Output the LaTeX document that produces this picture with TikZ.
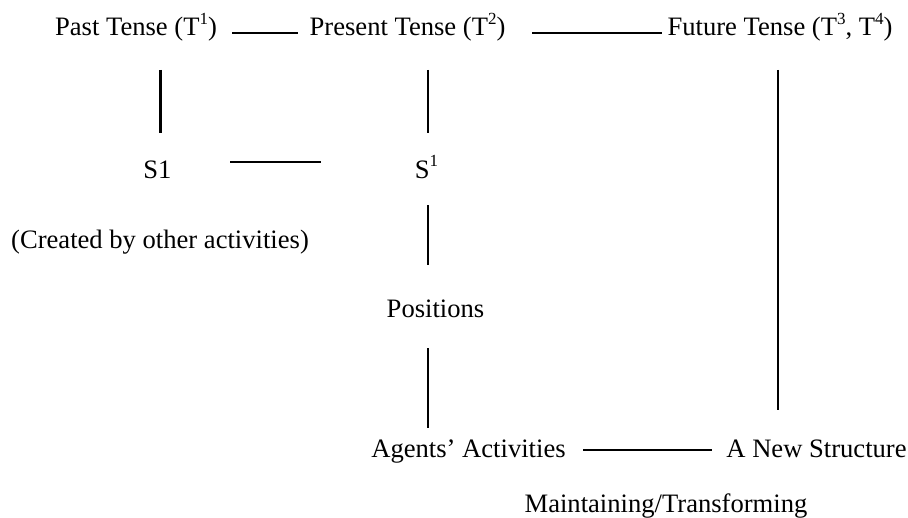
\documentclass[tikz,border=0pt]{standalone}
\usepackage{fontspec}
\setmainfont{Liberation Serif}
% small raised index, as used in the tense labels
\newcommand{\idx}[1]{\raisebox{0.42em}{\fontsize{8.5}{9}\selectfont #1}}
\begin{document}
\begin{tikzpicture}[x=0.5pt,y=-0.5pt,
  lbl/.style={anchor=base,inner sep=0pt,font=\fontsize{13.3}{16}\selectfont},
  link/.style={line width=1.25pt,black}]
\useasboundingbox (0,0) rectangle (908,518);
% labels
\node[lbl] (past)    at (136,36)   {Past Tense (T\idx{1})};
\node[lbl] (present) at (407.5,36) {Present Tense (T\idx{2})};
\node[lbl] (future)  at (780,36)   {Future Tense (T\idx{3}, T\idx{4})};
\node[lbl] (sone)    at (157.5,178) {S1};
\node[lbl] (ssup)    at (426.5,178) {S\idx{1}};
\node[lbl] (created) at (160,248)  {(Created by other activities)};
\node[lbl] (posn)    at (435.5,317) {Positions};
\node[lbl] (agents)  at (468.5,457) {Agents’ Activities};
\node[lbl] (newst)   at (816.5,457) {A New Structure};
\node[lbl] (maint)   at (666,512)  {Maintaining/Transforming};
% connector ends
\coordinate (pastR) at (232,33);   \coordinate (presL) at (298,33);
\coordinate (presR) at (532,33);   \coordinate (futL)  at (662,33);
\coordinate (pastD) at (160.7,70); \coordinate (soneU) at (160.7,133);
\coordinate (presD) at (428,70);   \coordinate (ssupU) at (428,133);
\coordinate (soneR) at (230,162);  \coordinate (ssupL) at (321,162);
\coordinate (ssupD) at (428,205);  \coordinate (posnU) at (428,265);
\coordinate (posnD) at (428,348);  \coordinate (agU)   at (428,428);
\coordinate (futD)  at (778,70);   \coordinate (nsU)   at (778,410);
\coordinate (agR)   at (583,450);  \coordinate (nsL)   at (712,450);
% connectors
\draw[link] (pastR) -- (presL);
\draw[link] (presR) -- (futL);
\draw[link] (pastD) -- (soneU);
\draw[link] (presD) -- (ssupU);
\draw[link] (soneR) -- (ssupL);
\draw[link] (ssupD) -- (posnU);
\draw[link] (posnD) -- (agU);
\draw[link] (futD) -- (nsU);
\draw[link] (agR) -- (nsL);
\end{tikzpicture}
\end{document}
